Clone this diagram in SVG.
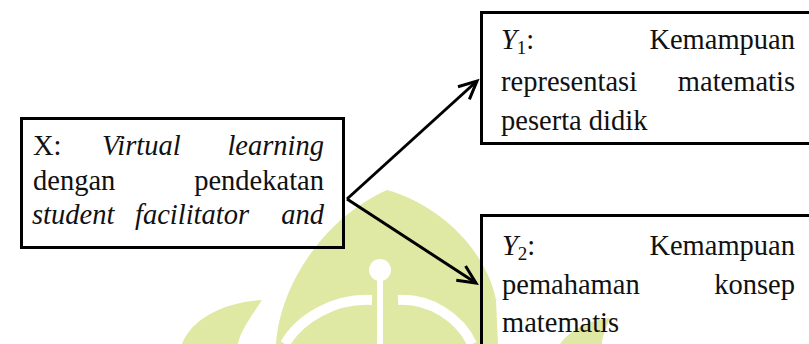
<svg xmlns="http://www.w3.org/2000/svg" width="809" height="344" viewBox="0 0 809 344">
<defs>
<style>
.t{font-family:"Liberation Serif","Times New Roman",serif;font-size:28.5px;fill:#111;}
.i{font-style:italic;}
.e{text-anchor:end;}
.box{fill:none;stroke:#000;stroke-width:3;}
.con{fill:none;stroke:#000;stroke-width:3;}
.wm{fill:#dfe9a4;}
.wh{fill:none;stroke:#fff;}
</style>
<marker id="ah" markerUnits="userSpaceOnUse" markerWidth="30" markerHeight="30" refX="0" refY="0" viewBox="-22 -15 30 30" orient="auto">
<path d="M-18,-8.5 L0,0 L-18,8.5" fill="none" stroke="#000" stroke-width="3" stroke-linejoin="miter"/>
</marker>
</defs>
<rect width="809" height="344" fill="#fff"/>
<g id="watermark">
<path class="wm" d="M387,190 C440,205 486,250 496,300 L498,344 L276,344 C279,290 320,220 387,190 Z"/>
<path class="wm" d="M182,344 C192,318 225,302 262,300 C250,318 240,332 238,344 Z"/>
<path class="wm" d="M560,344 C570,330 590,320 610,318 C605,330 602,338 602,344 Z"/>
<path class="wh" stroke-width="10" d="M285,344 C300,318 335,298 372,300"/>
<path class="wh" stroke-width="10" d="M398,300 C430,298 460,318 472,344"/>
<circle cx="380" cy="270" r="11" fill="#fff"/>
<rect x="377" y="275" width="6" height="69" fill="#fff"/>
</g>
<g id="connectors">
<line class="con" x1="347" y1="199" x2="477" y2="81" marker-end="url(#ah)"/>
<line class="con" x1="347" y1="199" x2="476" y2="283" marker-end="url(#ah)"/>
</g>
<g id="node-x">
<rect class="box" x="21.5" y="118.5" width="322" height="129"/>
<text class="t" x="33" y="155">X:</text>
<text class="t i" x="102" y="155">Virtual</text>
<text class="t i e" x="324" y="155">learning</text>
<text class="t" x="33" y="190">dengan</text>
<text class="t e" x="324" y="190">pendekatan</text>
<text class="t i" x="32" y="224">student</text>
<text class="t i" x="135" y="224">facilitator</text>
<text class="t i e" x="324" y="224">and</text>
</g>
<g id="node-y1">
<rect class="box" x="481.5" y="12.5" width="340" height="131"/>
<text class="t" x="501" y="49"><tspan class="i">Y</tspan><tspan font-size="19" dy="5">1</tspan><tspan dy="-5">:</tspan></text>
<text class="t e" x="795" y="49">Kemampuan</text>
<text class="t" x="501" y="91">representasi</text>
<text class="t e" x="795" y="91">matematis</text>
<text class="t" x="501" y="130">peserta didik</text>
</g>
<g id="node-y2">
<rect class="box" x="481.5" y="215.5" width="340" height="140"/>
<text class="t" x="502" y="255"><tspan class="i">Y</tspan><tspan font-size="19" dy="5">2</tspan><tspan dy="-5">:</tspan></text>
<text class="t e" x="795" y="255">Kemampuan</text>
<text class="t" x="502" y="294">pemahaman</text>
<text class="t e" x="795" y="294">konsep</text>
<text class="t" x="502" y="332">matematis</text>
</g>
</svg>
